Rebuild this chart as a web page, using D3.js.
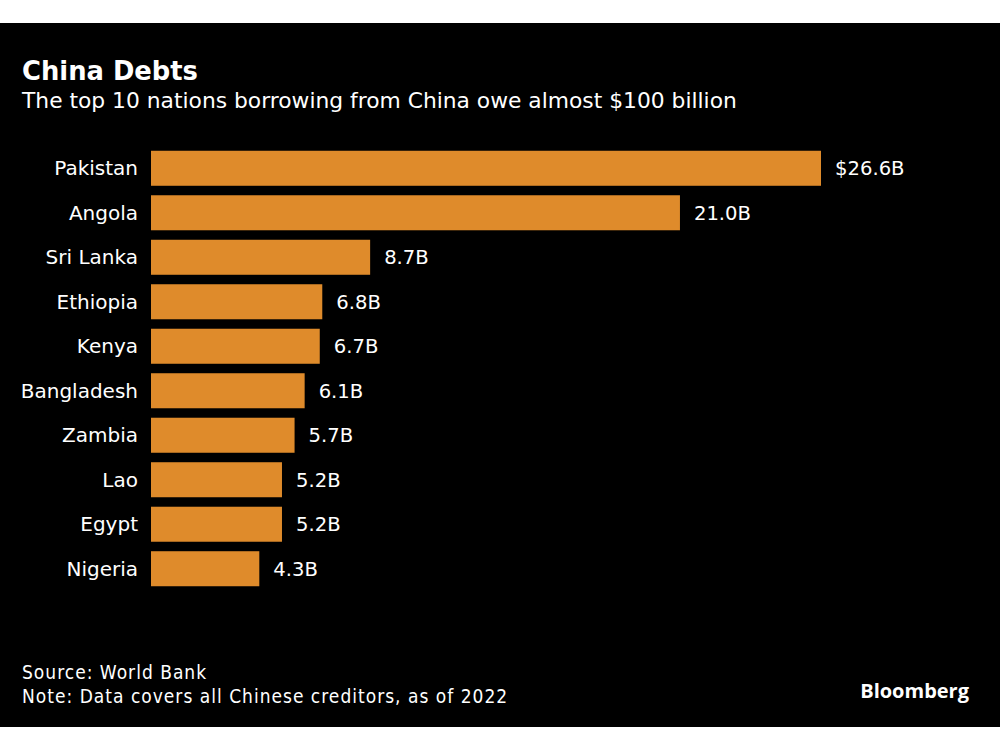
<!DOCTYPE html>
<html>
<head>
<meta charset="utf-8">
<script src="https://cdn.jsdelivr.net/npm/d3@7"></script>
<style>
  html, body { margin: 0; padding: 0; background: #ffffff; }
  svg { display: block; }
</style>
</head>
<body>
<script>
const categories = ["Pakistan", "Angola", "Sri Lanka", "Ethiopia", "Kenya", "Bangladesh", "Zambia", "Lao", "Egypt", "Nigeria"];
const values = [26.6, 21.0, 8.7, 6.8, 6.7, 6.1, 5.7, 5.2, 5.2, 4.3];
const valueLabels = ["$26.6B", "21.0B", "8.7B", "6.8B", "6.7B", "6.1B", "5.7B", "5.2B", "5.2B", "4.3B"];
const title = "China Debts";
const subtitle = "The top 10 nations borrowing from China owe almost $100 billion";
const footnotes = ["Source: World Bank", "Note: Data covers all Chinese creditors, as of 2022"];
const brand = "Bloomberg";

const W = 1000, H = 750;
const svg = d3.select("body").append("svg").attr("width", W).attr("height", H);

// dark panel
svg.append("rect").attr("x", 0).attr("y", 23).attr("width", W).attr("height", 704).attr("fill", "#000000");

const sans = "'DejaVu Sans', sans-serif";
const condensed = "'DejaVu Sans Condensed', 'DejaVu Sans', sans-serif";

svg.append("text").attr("x", 22).attr("y", 80)
  .attr("fill", "#ffffff").attr("font-family", sans)
  .attr("font-weight", "bold").attr("font-size", 25.8).text(title);

svg.append("text").attr("x", 22).attr("y", 108)
  .attr("fill", "#ffffff").attr("font-family", sans)
  .attr("font-size", 21.8).text(subtitle);

const x = d3.scaleLinear().domain([0, 26.6]).range([151, 821]);
const y = d3.scaleBand().domain(categories).range([146, 591]).paddingInner(0.213).paddingOuter(0.107);

const g = svg.append("g");
g.selectAll("rect.bar").data(categories).join("rect")
  .attr("class", "bar")
  .attr("x", x(0))
  .attr("y", d => y(d))
  .attr("width", (d, i) => x(values[i]) - x(0))
  .attr("height", y.bandwidth())
  .attr("fill", "#df8b2b");

g.selectAll("text.cat").data(categories).join("text")
  .attr("class", "cat")
  .attr("x", x(0) - 13)
  .attr("y", d => y(d) + y.bandwidth() / 2)
  .attr("dy", "0.36em")
  .attr("text-anchor", "end")
  .attr("fill", "#ffffff")
  .attr("font-family", sans)
  .attr("font-size", 20)
  .text(d => d);

g.selectAll("text.val").data(categories).join("text")
  .attr("class", "val")
  .attr("x", (d, i) => x(values[i]) + 14)
  .attr("y", d => y(d) + y.bandwidth() / 2)
  .attr("dy", "0.36em")
  .attr("fill", "#ffffff")
  .attr("font-family", sans)
  .attr("font-size", 19.6)
  .text((d, i) => valueLabels[i]);

svg.selectAll("text.foot").data(footnotes).join("text")
  .attr("class", "foot")
  .attr("x", 22)
  .attr("y", (d, i) => 679 + i * 24)
  .attr("fill", "#ffffff")
  .attr("font-family", condensed)
  .attr("font-size", 19)
  .attr("letter-spacing", 1)
  .text(d => d);

svg.append("text").attr("x", 969).attr("y", 698)
  .attr("text-anchor", "end")
  .attr("fill", "#ffffff").attr("font-family", "'Open Sans', sans-serif")
  .attr("font-weight", "bold").attr("font-size", 20).text(brand);
</script>
</body>
</html>
